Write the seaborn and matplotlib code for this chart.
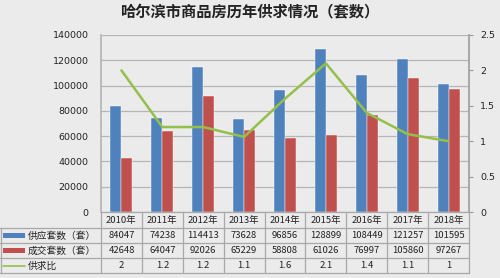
import matplotlib
matplotlib.use("Agg")
import matplotlib.pyplot as plt
import seaborn as sns
import pandas as pd
import numpy as np

years = ["2010年", "2011年", "2012年", "2013年", "2014年", "2015年", "2016年", "2017年", "2018年"]
supply = [84047, 74238, 114413, 73628, 96856, 128899, 108449, 121257, 101595]
deals = [42648, 64047, 92026, 65229, 58808, 61026, 76997, 105860, 97267]
ratio = [2, 1.2, 1.2, 1.1, 1.6, 2.1, 1.4, 1.1, 1]
ratio_line = [2.0, 1.2, 1.2, 1.06, 1.6, 2.1, 1.4, 1.1, 1.0]
series_names = ["供应套数（套）", "成交套数（套）", "供求比"]

BLUE = "#4F81BD"
RED = "#C0504D"
GREEN = "#94C04A"
BG = "#ebebeb"

sns.set_theme(style="white")
plt.rcParams['font.family'] = ['Noto Sans CJK SC', 'DejaVu Sans']

W, H = 500, 278
fig = plt.figure(figsize=(5, 2.78), dpi=100, facecolor=BG)

def fx(px):
    return px / W
def fy(py):
    return 1 - py / H

left, right, top, bottom = 101, 469, 35, 212
ax = fig.add_axes([fx(left), fy(bottom), fx(right - left), fy(top) - fy(bottom)])
ax.set_facecolor("none")

df = pd.DataFrame({
    "year": years * 2,
    "value": supply + deals,
    "series": [series_names[0]] * len(years) + [series_names[1]] * len(years),
})
sns.barplot(data=df, x="year", y="value", hue="series", palette=[BLUE, RED],
            width=0.54, gap=0, ax=ax, legend=False, saturation=1,
            edgecolor="#ffffff", linewidth=0.3)
ax.set_ylim(0, 140000)
ax.set_xlim(-0.5, len(years) - 0.5)
ax.set_yticks(np.arange(0, 140001, 20000))
ax.set_yticklabels([str(v) for v in range(0, 140001, 20000)], fontsize=6.8,
                   family='DejaVu Sans', color="#222222")
ax.tick_params(axis='y', length=0, pad=9)
ax.set_xticks([])
ax.set_xlabel("")
ax.set_ylabel("")
ax.grid(axis='y', color="#b5b5b5", linewidth=0.9)
ax.set_axisbelow(True)
for s in ["top", "right", "bottom"]:
    ax.spines[s].set_visible(False)
ax.spines["left"].set_color("#b5b5b5")

ax2 = ax.twinx()
ax2.set_facecolor("none")
sns.lineplot(x=np.arange(len(years)), y=ratio_line, color=GREEN, linewidth=1.8, ax=ax2)
ax2.set_ylim(0, 2.5)
ax2.set_xlim(-0.5, len(years) - 0.5)
ax2.set_yticks(np.arange(0, 2.51, 0.5))
ax2.set_yticklabels(["0", "0.5", "1", "1.5", "2", "2.5"], fontsize=6.8,
                    family='DejaVu Sans', color="#222222")
ax2.tick_params(axis='y', length=3, width=0.8, color="#999999", pad=5)
for s in ["top", "left", "bottom"]:
    ax2.spines[s].set_visible(False)
ax2.spines["right"].set_color("#a0a0a0")
ax2.grid(False)
ax2.set_ylabel("")

# Title
fig.text(0.5, fy(12), "哈尔滨市商品房历年供求情况（套数）", ha="center", va="center",
         fontsize=11, fontweight="bold", color="#222222")

# Data table
tax = fig.add_axes([0, 0, 1, 1])
tax.set_xlim(0, W)
tax.set_ylim(H, 0)
tax.axis("off")
tax.patch.set_alpha(0)
rows = [212, 228, 243, 258, 273]
colw = (right - left) / len(years)
lc = "#a8a8a8"
tax.plot([left, right], [rows[0], rows[0]], color=lc, lw=0.9)
for r in rows[1:]:
    tax.plot([0, right], [r, r], color=lc, lw=0.9)
for i in range(len(years) + 1):
    x = left + i * colw
    tax.plot([x, x], [rows[0], rows[-1]], color=lc, lw=0.9)
tax.plot([0.5, 0.5], [rows[1], rows[-1]], color=lc, lw=0.9)

table_vals = [years, [str(v) for v in supply], [str(v) for v in deals], [str(v) for v in ratio]]
for ri, vals in enumerate(table_vals):
    yc = (rows[ri] + rows[ri + 1]) / 2
    for ci, v in enumerate(vals):
        xc = left + (ci + 0.5) * colw
        tax.text(xc, yc, v, ha="center", va="center", fontsize=6.8, color="#222222")

for i, (name, col) in enumerate(zip(series_names, [BLUE, RED, GREEN])):
    yc = (rows[i + 1] + rows[i + 2]) / 2
    if i < 2:
        tax.add_patch(plt.Rectangle((3, yc - 2.2), 22, 4.4, color=col, lw=0))
    else:
        tax.plot([3, 25], [yc, yc], color=col, lw=1.2)
    tax.text(28, yc, name, ha="left", va="center", fontsize=7, color="#222222")

fig.savefig("out.png", dpi=100, facecolor=BG)
